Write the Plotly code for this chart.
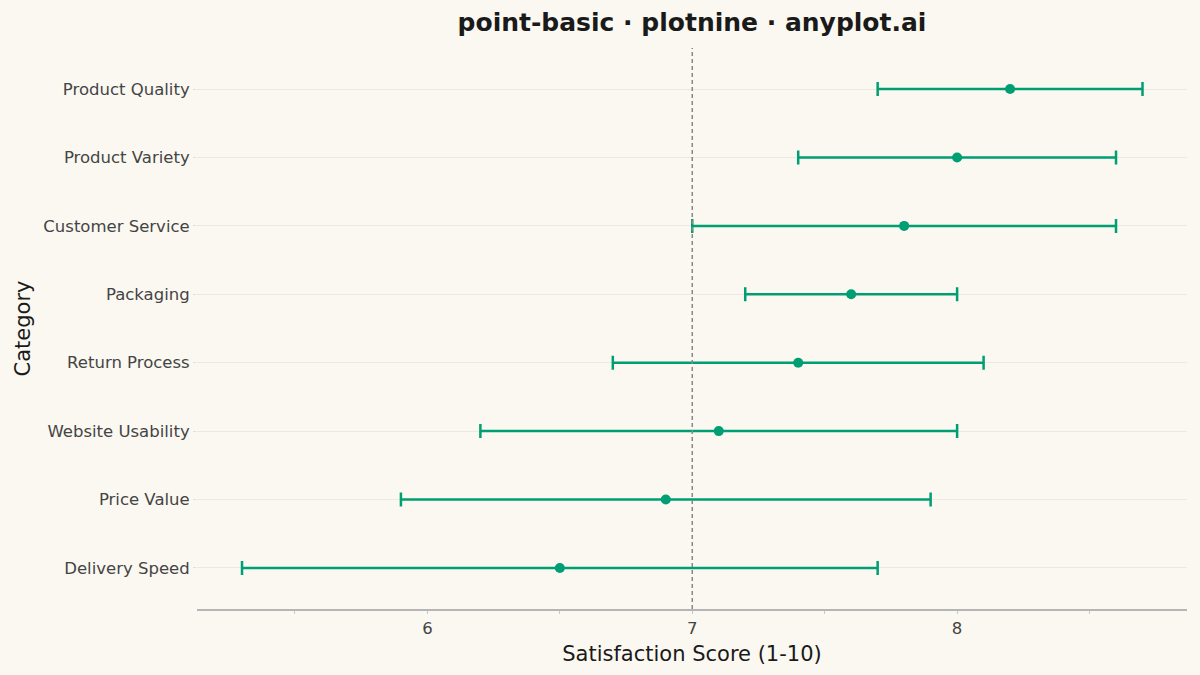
import plotly.graph_objects as go

# Satisfaction survey results (mean score with interval)
categories = [
    "Delivery Speed", "Price Value", "Website Usability", "Return Process",
    "Packaging", "Customer Service", "Product Variety", "Product Quality",
]
scores = [6.5, 6.9, 7.1, 7.4, 7.6, 7.8, 8.0, 8.2]
lower = [5.3, 5.9, 6.2, 6.7, 7.2, 7.0, 7.4, 7.7]
upper = [7.7, 7.9, 8.0, 8.1, 8.0, 8.6, 8.6, 8.7]
reference_score = 7.0

green = "#009E73"
bg = "#FAF8F1"

err_plus = [u - s for u, s in zip(upper, scores)]
err_minus = [s - l for s, l in zip(scores, lower)]

fig = go.Figure()

fig.add_vline(x=reference_score, line=dict(color="#888888", width=1.5, dash="4px,3px"))

fig.add_scatter(
    x=scores,
    y=categories,
    mode="markers",
    marker=dict(color=green, size=10),
    error_x=dict(
        type="data",
        symmetric=False,
        array=err_plus,
        arrayminus=err_minus,
        color=green,
        thickness=2.5,
        width=7,
    ),
    showlegend=False,
)

fig.update_layout(
    width=1200,
    height=675,
    paper_bgcolor=bg,
    plot_bgcolor=bg,
    margin=dict(l=197, r=13, t=48, b=66),
    font=dict(family="DejaVu Sans", color="#444444"),
    title=dict(
        text="<b>point-basic · plotnine · anyplot.ai</b>",
        x=0.5, xref="paper", xanchor="center", y=0.967, yanchor="middle",
        font=dict(size=25, color="#1a1a1a"),
    ),
    xaxis=dict(
        title=dict(text="Satisfaction Score (1-10)", font=dict(size=21, color="#1a1a1a"), standoff=10),
        range=[5.13, 8.868],
        tickvals=[6, 7, 8],
        tickfont=dict(size=16.5),
        showgrid=False,
        zeroline=False,
        showline=True,
        linecolor="#b5b5b5",
        linewidth=1.5,
        ticks="outside",
        ticklen=3,
        tickcolor="#c8c8c8",
        minor=dict(tickvals=[5.5, 6.5, 7.5, 8.5], ticks="outside", ticklen=3, tickcolor="#c8c8c8"),
    ),
    yaxis=dict(
        title=dict(text="Category", font=dict(size=21, color="#1a1a1a"), standoff=6),
        categoryorder="array",
        categoryarray=categories,
        range=[-0.6, 7.6],
        tickfont=dict(size=16.5),
        showgrid=True,
        gridcolor="#ebe9e2",
        gridwidth=1,
        zeroline=False,
        showline=False,
        ticks="outside",
        ticklen=3,
        tickcolor="#dddddd",
    ),
)

# drop the browser's default page margin so the chart sits flush in the window
fig.write_html(
    "out.html",
    config={"displayModeBar": False},
    post_script="document.body.style.margin='0';",
)
